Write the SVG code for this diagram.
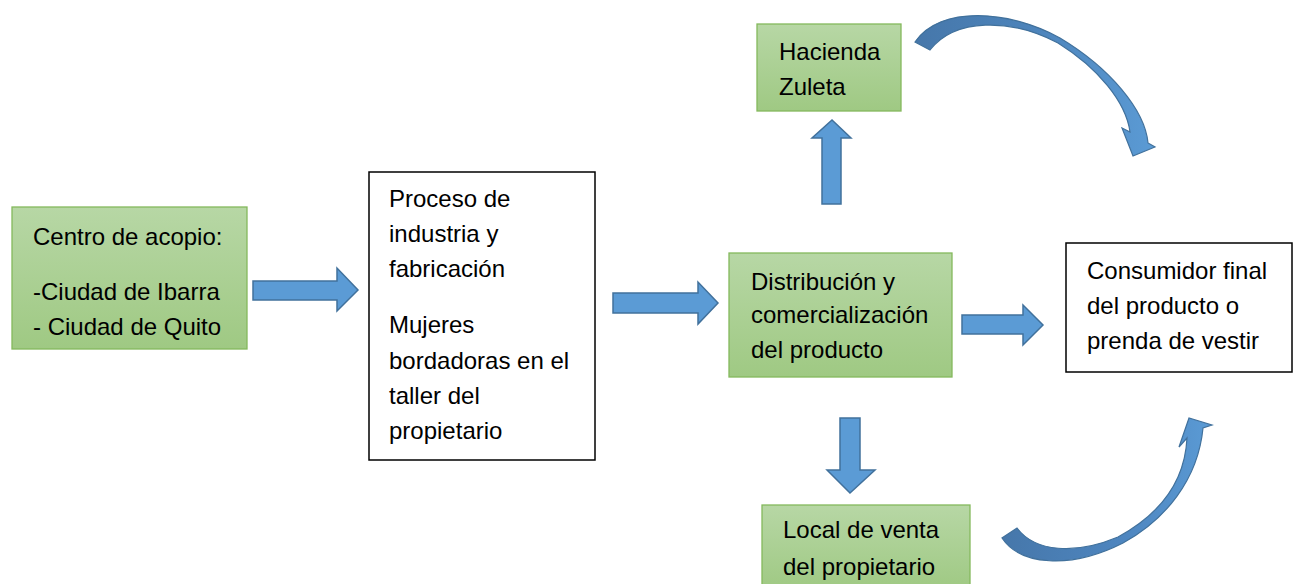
<svg xmlns="http://www.w3.org/2000/svg" width="1294" height="584" viewBox="0 0 1294 584">
<style>
.g{fill:url(#gg);stroke:#84b95c;stroke-width:1.3}
.w{fill:#fff;stroke:#000;stroke-width:1.5}
.a{fill:#5b9bd5;stroke:#41719c;stroke-width:1.5;stroke-linejoin:miter}
.c{stroke:#41719c;stroke-width:1.2}
text{font-family:"Liberation Sans",Arial,sans-serif;font-size:24px;fill:#000}
</style>
<defs>
<linearGradient id="gg" x1="0" y1="0" x2="0" y2="1">
<stop offset="0" stop-color="#b7d7a5"/>
<stop offset="1" stop-color="#9fc983"/>
</linearGradient>
<linearGradient id="c1" x1="0" y1="0" x2="1" y2="0">
<stop offset="0" stop-color="#4677aa"/>
<stop offset="0.5" stop-color="#4d84bb"/>
<stop offset="1" stop-color="#5b9bd5"/>
</linearGradient>
<linearGradient id="c2" x1="0" y1="0" x2="1" y2="0">
<stop offset="0" stop-color="#4677aa"/>
<stop offset="0.6" stop-color="#4e86c0"/>
<stop offset="1" stop-color="#5b9bd5"/>
</linearGradient>
</defs>
<rect width="1294" height="584" fill="#fff"/>
<g id="connectors">
<path class="a" d="M253,281 H337 V268 L358,290 L337,311 V300 H253 Z"/>
<path class="a" d="M613,293 H698 V282 L718,303 L698,324 V313 H613 Z"/>
<path class="a" d="M962,315 H1023 V305 L1043,325 L1023,345 V334 H962 Z"/>
<path class="a" d="M822,204 V138 H812 L832,120 L851,138 H841 V204 Z"/>
<path class="a" d="M840,418 V470 H827 L850,493 L875,470 H860 V418 Z"/>
<path class="c" fill="url(#c1)" d="M915,42 C940,5 1010,10 1060,38 C1110,68 1145,110 1148,143 L1155,147 L1133,156 L1122,128 L1130,132 C1126,102 1098,68 1058,43 C1010,18 955,18 930,50 Z"/>
<path class="c" fill="url(#c2)" d="M1002,538 C1020,565 1070,570 1123,543 C1165,520 1198,480 1203,428 L1212,425 L1189,418 L1179,447 L1187,438 C1185,480 1162,513 1118,537 C1075,555 1035,552 1017,528 Z"/>
</g>
<g id="centro">
<rect class="g" x="12" y="207" width="235" height="142"/>
<text x="33" y="245">Centro de acopio:</text>
<text x="33" y="300">-Ciudad de Ibarra</text>
<text x="33" y="335">- Ciudad de Quito</text>
</g>
<g id="proceso">
<rect class="w" x="369" y="172" width="226" height="288"/>
<text x="389" y="207">Proceso de</text>
<text x="389" y="242">industria y</text>
<text x="389" y="277">fabricación</text>
<text x="389" y="333">Mujeres</text>
<text x="389" y="369">bordadoras en el</text>
<text x="389" y="404">taller del</text>
<text x="389" y="439">propietario</text>
</g>
<g id="distribucion">
<rect class="g" x="729" y="253" width="223" height="124"/>
<text x="751" y="290">Distribución y</text>
<text x="751" y="323">comercialización</text>
<text x="751" y="358">del producto</text>
</g>
<g id="consumidor">
<rect class="w" x="1066" y="243" width="226" height="129"/>
<text x="1087" y="279">Consumidor final</text>
<text x="1087" y="314">del producto o</text>
<text x="1087" y="349">prenda de vestir</text>
</g>
<g id="hacienda">
<rect class="g" x="757" y="24" width="144" height="87"/>
<text x="779" y="60">Hacienda</text>
<text x="779" y="95">Zuleta</text>
</g>
<g id="local">
<rect class="g" x="762" y="505" width="208" height="85"/>
<text x="783" y="538">Local de venta</text>
<text x="783" y="575">del propietario</text>
</g>
</svg>
